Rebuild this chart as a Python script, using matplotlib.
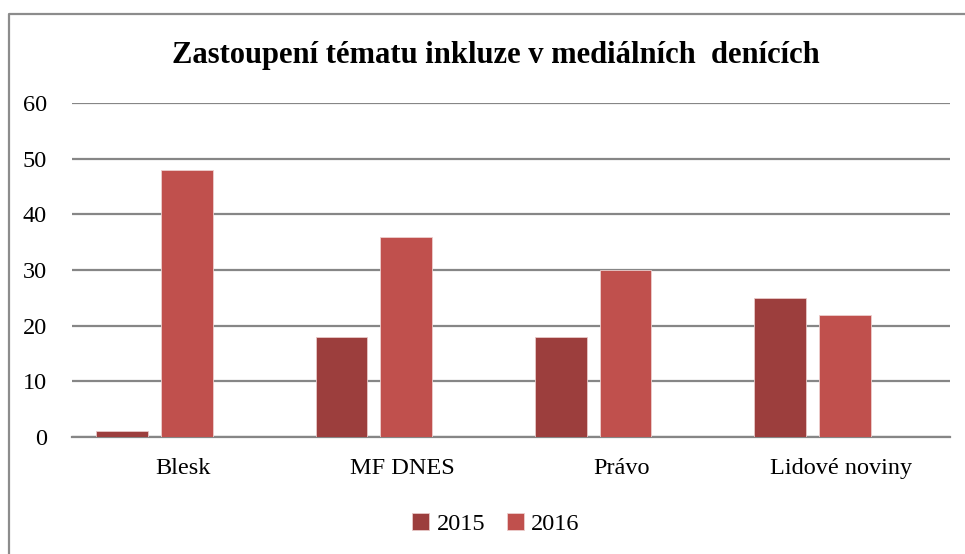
import matplotlib
matplotlib.use("Agg")
import matplotlib.pyplot as plt
from matplotlib.lines import Line2D
import numpy as np

categories = ["Blesk", "MF DNES", "Právo", "Lidové noviny"]
series_names = ["2015", "2016"]
values_2015 = [1, 18, 18, 25]
values_2016 = [48, 36, 30, 22]
yticks = [0, 10, 20, 30, 40, 50, 60]

plt.rcParams['font.family'] = ['Liberation Serif', 'DejaVu Serif']

fig = plt.figure(figsize=(9.65, 5.54), dpi=100)
ax = fig.add_axes([0.0746, 0.2112, 0.9094, 0.6029])

x = np.arange(len(categories))
w = 0.236
b1 = ax.bar(x - 0.277, values_2015, width=w, color="#9C3E3D", edgecolor="#E8C8C8", linewidth=0.6, label=series_names[0], zorder=3)
b2 = ax.bar(x + 0.018, values_2016, width=w, color="#C0504D", edgecolor="#EDCFCE", linewidth=0.6, label=series_names[1], zorder=3)

ax.set_xlim(-0.505, 3.495)
ax.set_ylim(0, 60)
ax.set_yticks(yticks)
ax.set_yticklabels([str(t) for t in yticks], fontsize=17.5)
ax.set_xticks(x)
ax.set_xticklabels(categories, fontsize=17.5)
ax.tick_params(axis='y', length=0, pad=18)
ax.tick_params(axis='x', length=0, pad=15)
ax.yaxis.grid(True, color="#868686", linewidth=1.6, zorder=0)
ax.set_axisbelow(True)
for s in ["left", "right", "top"]:
    ax.spines[s].set_visible(False)
ax.spines["bottom"].set_color("#868686")
ax.spines["bottom"].set_linewidth(1.6)

fig.text(0.514, 0.9, "Zastoupení tématu inkluze v mediálních  denících", ha="center", va="center",
         fontsize=22, fontweight="bold")

leg = fig.legend(handles=[b1, b2], labels=series_names, loc="center", bbox_to_anchor=(0.514, 0.055),
                 ncol=2, frameon=False, fontsize=17.5, handlelength=0.7, handleheight=0.7,
                 handletextpad=0.3, columnspacing=0.9)

bx = 9 / 965
by = 1 - 14 / 554
fig.lines.append(Line2D([bx, bx, 1.0], [0.0, by, by], transform=fig.transFigure,
                        color="#8C8C8C", linewidth=1.6))

fig.savefig("out.png", dpi=100)
